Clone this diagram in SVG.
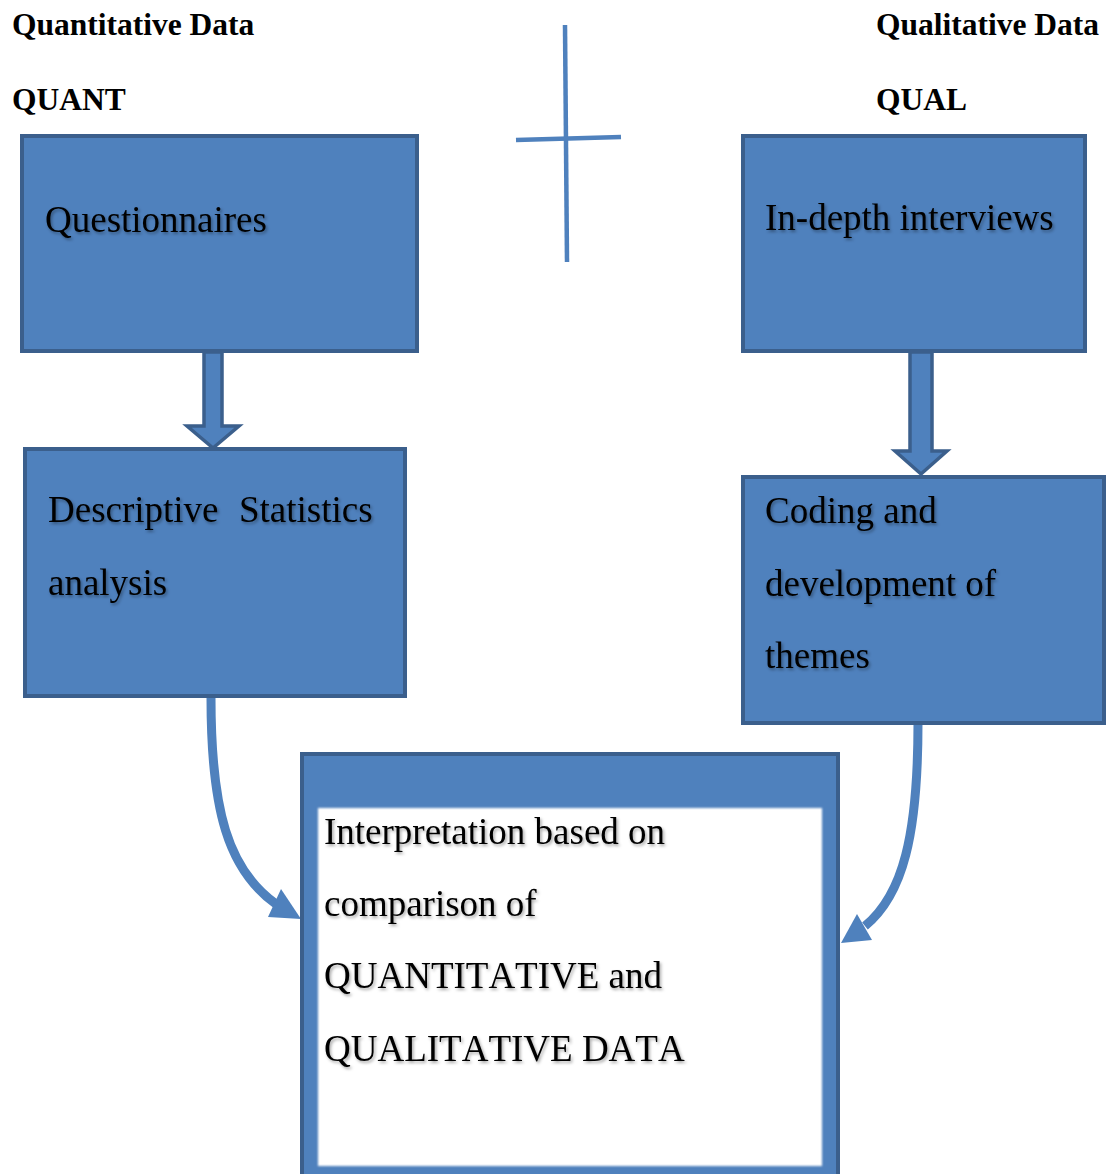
<svg xmlns="http://www.w3.org/2000/svg" width="1111" height="1174" viewBox="0 0 1111 1174">
  <style>
    text { font-kerning: none; }
    .box { fill: #4F81BD; stroke: #3B5F8C; stroke-width: 4; }
    .head { font-family: "Liberation Serif", "Times New Roman", serif; font-weight: bold; font-size: 31.5px; fill: #000; }
    .lbl { font-family: "Liberation Serif", "Times New Roman", serif; font-size: 37px; fill: #000; filter: url(#txtShadow); }
    .block { fill: #4F81BD; stroke: #3B5F8C; stroke-width: 3.5; stroke-linejoin: miter; }
    .curve { fill: none; stroke: #4F81BD; stroke-width: 9; }
    .tip { fill: #4F81BD; }
    .cross { stroke: #4F81BD; stroke-width: 4.5; fill: none; }
  </style>
  <defs>
    <filter id="txtShadow" x="-5%" y="-20%" width="110%" height="150%">
      <feDropShadow dx="1.5" dy="2" stdDeviation="1.5" flood-color="#000" flood-opacity="0.35"/>
    </filter>
    <filter id="softEdge" x="-2%" y="-2%" width="104%" height="104%">
      <feGaussianBlur stdDeviation="1"/>
    </filter>
  </defs>

  <rect width="1111" height="1174" fill="#fff"/>

  <!-- column headings -->
  <g id="heading-quant">
    <text class="head" x="12" y="35">Quantitative Data</text>
    <text class="head" x="12" y="110">QUANT</text>
  </g>
  <g id="heading-qual">
    <text class="head" x="876" y="35">Qualitative Data</text>
    <text class="head" x="876" y="110">QUAL</text>
  </g>

  <!-- plus sign between the two strands -->
  <g id="plus">
    <line class="cross" x1="565" y1="25" x2="567" y2="262"/>
    <line class="cross" x1="516" y1="140" x2="621" y2="137"/>
  </g>

  <!-- connectors -->
  <g id="connectors">
    <polygon class="block" points="204,352 222,352 222,426 239,426 213,448 187,426 204,426"/>
    <polygon class="block" points="910,352 932,352 932,451 947,451 921,474 895,451 910,451"/>
    <path class="curve" d="M211,698 C211,810 228,870 276,904"/>
    <polygon class="tip" points="281,889 268,917 301,919"/>
    <path class="curve" d="M918,723 C918,835 903,895 865,926"/>
    <polygon class="tip" points="857,914 872,940 841,943"/>
  </g>

  <g id="questionnaires">
    <rect class="box" x="22" y="136" width="395" height="215"/>
    <text class="lbl" x="45" y="232">Questionnaires</text>
  </g>

  <g id="interviews">
    <rect class="box" x="743" y="136" width="342" height="215"/>
    <text class="lbl" x="765" y="230">In-depth interviews</text>
  </g>

  <g id="descriptive-statistics">
    <rect class="box" x="25" y="449" width="380" height="247"/>
    <text class="lbl" y="522"><tspan x="48">Descriptive</tspan><tspan x="239">Statistics</tspan></text>
    <text class="lbl" x="48" y="595">analysis</text>
  </g>

  <g id="coding-themes">
    <rect class="box" x="743" y="477" width="361" height="246"/>
    <text class="lbl" x="765" y="523">Coding and</text>
    <text class="lbl" x="765" y="596">development of</text>
    <text class="lbl" x="765" y="668">themes</text>
  </g>

  <g id="interpretation">
    <rect class="box" x="302" y="754" width="536" height="440"/>
    <rect x="318" y="808" width="504" height="358" fill="#fff" filter="url(#softEdge)"/>
    <text class="lbl" x="324" y="844">Interpretation based on</text>
    <text class="lbl" x="324" y="916">comparison of</text>
    <text class="lbl" x="324" y="988">QUANTITATIVE and</text>
    <text class="lbl" x="324" y="1061">QUALITATIVE DATA</text>
  </g>
</svg>
